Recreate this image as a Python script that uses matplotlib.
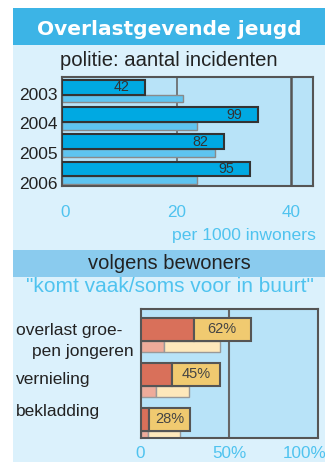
import matplotlib
matplotlib.use("Agg")
import matplotlib.pyplot as plt
from matplotlib.patches import Rectangle
from matplotlib.transforms import ScaledTranslation, blended_transform_factory
import numpy as np

# ---- data -------------------------------------------------------------
years = ["2003", "2004", "2005", "2006"]
incidents = [42, 99, 82, 95]            # police incidents in the neighbourhood
inhabitants_thousands = 2.9             # neighbourhood population (x1000)
city_rate = [21.1, 23.6, 26.7, 23.5]    # comparison: incidents per 1000 inhabitants

problems = ["overlast groe-\npen jongeren", "vernieling", "bekladding"]
buurt_vaak = [30, 18, 5]                # "komt vaak voor"  (%)
buurt_soms = [32, 27, 23]               # "komt soms voor"  (%)
ref_vaak = [13, 9, 4]
ref_soms = [32, 18.5, 18.5]

top_ticks = [0, 20, 40]
bottom_ticks = [0, 50, 100]
bottom_ticklabels = ["0", "50%", "100%"]

# ---- style ------------------------------------------------------------
PANEL = "#dbf1fc"
TITLE_BG = "#3cb4e6"
BAND = "#8acbee"
AX_BG = "#b8e3f8"
DARK_BAR = "#00a9e2"
LIGHT_BAR = "#5ec4f0"
RED = "#d9705a"
YELLOW = "#f0ca70"
PINK = "#eeab9a"
CREAM = "#fee8bb"
TICK_BLUE = "#4fc3ef"
TEXT = "#222222"
SPINE = "#555555"

plt.rcParams["font.family"] = ["Liberation Sans", "DejaVu Sans"]

W, H = 332, 462
fig = plt.figure(figsize=(W / 100, H / 100), dpi=100)
fig.patch.set_facecolor("white")


def fx(x):
    return x / W


def fy(y):
    return 1 - y / H


def fig_rect(x0, y0, x1, y1, color):
    r = Rectangle((fx(x0), fy(y1)), fx(x1) - fx(x0), fy(y0) - fy(y1),
                  transform=fig.transFigure, facecolor=color, edgecolor="none",
                  zorder=0)
    fig.add_artist(r)
    return r


panel = fig_rect(13, 8, 325, 462, PANEL)
fig_rect(13, 8, 325, 45, TITLE_BG)
fig_rect(13, 250, 325, 277, BAND)

fig.text(fx(169), fy(35), "Overlastgevende jeugd", family="DejaVu Sans",
         weight="bold", fontsize=14.5, color="white", ha="center", va="baseline")
fig.text(fx(169), fy(66), "politie: aantal incidenten", fontsize=14.6,
         color=TEXT, ha="center", va="baseline")

# ---- top chart: police incidents ---------------------------------------
ax1 = fig.add_axes([fx(62), fy(186), fx(313) - fx(62), fy(77) - fy(186)])
ax1.set_facecolor(AX_BG)
ax1.set_xlim(0, 43.8)
ax1.set_ylim(4, 0)

rates = [c / inhabitants_thousands for c in incidents]
idx = np.arange(len(years))
ax1.barh(idx + 0.11, rates, height=0.54, align="edge", color=DARK_BAR,
         edgecolor="#333333", linewidth=1.5, zorder=3)
ax1.barh(idx + 0.65, city_rate, height=0.28, align="edge", color=LIGHT_BAR,
         edgecolor="#8a8a8a", linewidth=1.0, zorder=2)
for i, (c, r) in enumerate(zip(incidents, rates)):
    ax1.annotate(str(c), xy=(r, i + 0.38), xytext=(-11.5, 0),
                 textcoords="offset points", ha="right", va="center",
                 fontsize=10.3, color="#333333", zorder=4)

ax1.axvline(20, color="#666666", lw=1.2, zorder=1)
ax1.axvline(40, color=SPINE, lw=1.8, zorder=1)
for s in ax1.spines.values():
    s.set_color(SPINE)
    s.set_linewidth(1.5)
ax1.set_xticks(top_ticks)
ax1.set_xticklabels([str(t) for t in top_ticks], fontsize=12.3, color=TICK_BLUE)
ax1.set_yticks(idx + 0.62 + 0.085 * idx)
ax1.set_yticklabels(years, fontsize=12.5, color=TEXT)
ax1.tick_params(axis="x", length=0, pad=14)
ax1.tick_params(axis="y", length=0, pad=3)
ax1.get_xticklabels()[0].set_transform(
    ax1.get_xticklabels()[0].get_transform()
    + ScaledTranslation(0.03, 0, fig.dpi_scale_trans))

fig.text(fx(316), fy(235), "per 1000 inwoners", fontsize=12.6,
         color=TICK_BLUE, ha="right", va="center")

fig.text(fx(169), fy(263.5), "volgens bewoners", fontsize=14.5,
         color=TEXT, ha="center", va="center")
fig.text(fx(170), fy(287), "\"komt vaak/soms voor in buurt\"", fontsize=15,
         color=TICK_BLUE, ha="center", va="center")

# ---- bottom chart: residents' survey -----------------------------------
ax2 = fig.add_axes([fx(140.5), fy(438), fx(318) - fx(140.5), fy(309) - fy(438)])
ax2.set_facecolor(AX_BG)
ax2.set_xlim(0, 100)
ax2.set_ylim(2.87, 0)

pidx = np.arange(len(problems))
ax2.barh(pidx + 0.2, buurt_vaak, height=0.51, align="edge", color=RED,
         edgecolor=SPINE, linewidth=1.5, zorder=3)
ax2.barh(pidx + 0.2, buurt_soms, left=buurt_vaak, height=0.51, align="edge",
         color=YELLOW, edgecolor=SPINE, linewidth=1.5, zorder=3)
ax2.barh(pidx + 0.71, ref_vaak, height=0.245, align="edge", color=PINK,
         edgecolor="#999999", linewidth=1.0, zorder=2)
ax2.barh(pidx + 0.71, ref_soms, left=ref_vaak, height=0.245, align="edge",
         color=CREAM, edgecolor="#999999", linewidth=1.0, zorder=2)
for i, (v, s) in enumerate(zip(buurt_vaak, buurt_soms)):
    ax2.text(v + s / 2, i + 0.455, f"{v + s:.0f}%", ha="center", va="center",
             fontsize=10.5, color="#444444", zorder=4)

ax2.axvline(50, color="#666666", lw=1.5, zorder=1)
for s in ax2.spines.values():
    s.set_color(SPINE)
    s.set_linewidth(1.5)
ax2.set_yticks([])
ax2.set_xticks(bottom_ticks)
ax2.set_xticklabels(bottom_ticklabels, fontsize=12.3, color=TICK_BLUE)
ax2.tick_params(axis="x", length=0, pad=5.5)
lbl100 = ax2.get_xticklabels()[2]
lbl100.set_transform(lbl100.get_transform()
                     + ScaledTranslation(-0.135, 0, fig.dpi_scale_trans))
lbl100.set_clip_path(panel)
lbl100.set_clip_on(True)

# category labels, left of the bars
label_offsets = [0.48, 0.56, 0.28]
line_indent = [0, 16]
cat_tr = blended_transform_factory(fig.transFigure, ax2.transData)
for i, (name, off) in enumerate(zip(problems, label_offsets)):
    for j, line in enumerate(name.split("\n")):
        fig.text(fx(16 + line_indent[j]), i + off + j * 0.467, line,
                 transform=cat_tr, fontsize=12.5, color=TEXT,
                 ha="left", va="center")

fig.savefig("out.png", dpi=100, facecolor=fig.get_facecolor())
